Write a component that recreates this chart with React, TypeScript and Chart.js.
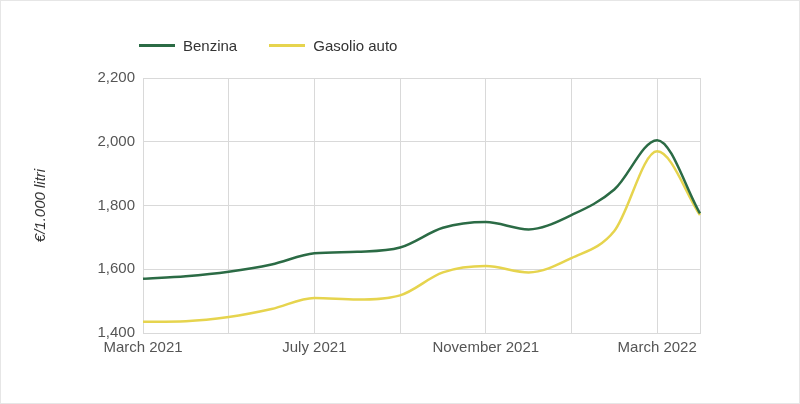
import React, { useEffect, useRef } from "react";
import { Chart, registerables } from "chart.js";
Chart.register(...registerables);

const months = ["March 2021","Apr 2021","May 2021","Jun 2021","July 2021","Aug 2021","Sep 2021","Oct 2021","November 2021","Dec 2021","Jan 2022","Feb 2022","March 2022","Apr 2022"];
const benzina = [1570, 1578, 1592, 1615, 1650, 1655, 1668, 1730, 1748, 1725, 1770, 1850, 2005, 1775];
const gasolio = [1435, 1437, 1450, 1475, 1510, 1505, 1518, 1590, 1610, 1590, 1635, 1720, 1970, 1770];
const GREEN = "#2b6b45";
const YELLOW = "#e6d44e";

export default function App() {
  const ref = useRef<HTMLCanvasElement>(null);
  useEffect(() => {
    document.body.style.margin = "0";
    const chart = new Chart(ref.current!, {
      type: "line",
      data: {
        labels: months,
        datasets: [
          { label: "Benzina", data: benzina, borderColor: GREEN, backgroundColor: GREEN, borderWidth: 2.5, pointRadius: 0, cubicInterpolationMode: "monotone" },
          { label: "Gasolio auto", data: gasolio, borderColor: YELLOW, backgroundColor: YELLOW, borderWidth: 2.5, pointRadius: 0, cubicInterpolationMode: "monotone" },
        ],
      },
      options: {
        animation: false,
        responsive: false,
        layout: { padding: { left: 28, right: 100, top: 78, bottom: 41 } },
        plugins: { legend: { display: false }, tooltip: { enabled: false } },
        scales: {
          x: {
            grid: { color: (c: any) => (c.index % 2 === 0 || c.index === 13 ? "#d9d9d9" : "transparent"), drawTicks: false },
            border: { color: "#d9d9d9" },
            ticks: {
              autoSkip: false, maxRotation: 0, color: "#555", padding: 6,
              font: { family: "Arial, 'Liberation Sans'", size: 15 },
              callback: (v: any, i: number) => (i % 4 === 0 ? months[i] : ""),
            },
          },
          y: {
            min: 1400, max: 2200,
            afterFit: (s: any) => { s.width = 115; },
            grid: { color: "#d9d9d9", drawTicks: false },
            border: { color: "#d9d9d9" },
            ticks: { stepSize: 200, color: "#555", padding: 8, font: { family: "Arial, 'Liberation Sans'", size: 15 }, callback: (v: any) => Number(v).toLocaleString("en-US") },
            title: { display: true, text: "€/1.000 litri", color: "#333", font: { family: "Arial, 'Liberation Sans'", size: 15, style: "italic" } },
          },
        },
      },
    });
    return () => chart.destroy();
  }, []);
  const item = (c: string, t: string, w: number) => (
    <span style={{ display: "inline-flex", alignItems: "center", marginRight: w }}>
      <span style={{ width: 36, height: 3, background: c, display: "inline-block", marginRight: 8 }} />
      <span>{t}</span>
    </span>
  );
  return (
    <div style={{ position: "relative", width: 800, height: 404, background: "#fff" }}>
      <div style={{ position: "absolute", left: 0, top: 0, width: 798, height: 402, border: "1px solid #e6e6e6" }} />
      <div style={{ position: "absolute", left: 139, top: 33, fontFamily: "Arial, 'Liberation Sans'", fontSize: 15, color: "#333" }}>
        {item(GREEN, "Benzina", 32)}{item(YELLOW, "Gasolio auto", 0)}
      </div>
      <canvas ref={ref} width={800} height={404} />
    </div>
  );
}
